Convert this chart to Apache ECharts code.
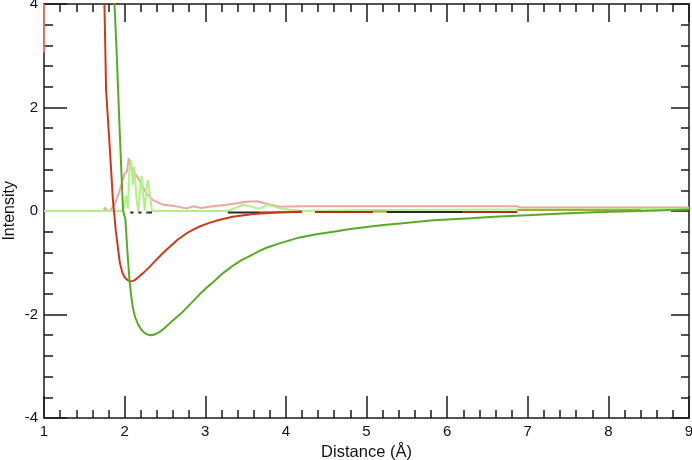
<!DOCTYPE html>
<html>
<head>
<meta charset="utf-8">
<script src="https://cdn.jsdelivr.net/npm/echarts@6/dist/echarts.min.js"></script>
<style>
  html, body { margin: 0; padding: 0; background: #fff; }
  #chart { width: 692px; height: 460px; }
</style>
</head>
<body>
<div id="chart"></div>
<script>
// total (red) curve
const redCurve = [
  [1.74, 4.3], [1.75, 3.98], [1.77, 2.34], [1.81, 1.37], [1.855, 0.21], [1.89, -0.37],
  [1.94, -1.0], [1.97, -1.18], [2.0, -1.28], [2.04, -1.34], [2.08, -1.36], [2.12, -1.34],
  [2.17, -1.28], [2.23, -1.2], [2.31, -1.08], [2.39, -0.95], [2.47, -0.82], [2.56, -0.69],
  [2.66, -0.55], [2.77, -0.43], [2.85, -0.36], [2.93, -0.30], [3.05, -0.23], [3.18, -0.17],
  [3.34, -0.11], [3.6, -0.06], [3.88, -0.03], [4.2, -0.01]
]
// second (green) curve
const greenCurve = [
  [1.87, 4.3], [1.875, 3.98], [1.9, 3.11], [1.94, 1.5], [1.98, 0.02], [2.01, -0.17],
  [2.035, -0.8], [2.06, -1.33], [2.08, -1.62], [2.1, -1.85], [2.13, -2.05], [2.17, -2.2],
  [2.21, -2.3], [2.25, -2.36], [2.29, -2.39], [2.33, -2.4], [2.38, -2.38], [2.43, -2.34],
  [2.49, -2.27], [2.56, -2.17], [2.64, -2.06], [2.72, -1.95], [2.82, -1.79], [2.93, -1.61],
  [3.02, -1.48], [3.1, -1.37], [3.22, -1.2], [3.34, -1.06], [3.45, -0.95], [3.55, -0.87],
  [3.66, -0.78], [3.76, -0.71], [3.93, -0.62], [4.17, -0.51], [4.38, -0.45], [4.59, -0.4],
  [4.8, -0.35], [5.0, -0.31], [5.21, -0.27], [5.42, -0.24], [5.63, -0.21], [5.83, -0.18],
  [6.06, -0.16], [6.29, -0.14], [6.58, -0.11], [6.99, -0.08], [7.44, -0.05], [7.9, -0.02],
  [8.4, 0.0], [9.0, 0.03]
]
// light red curve
const pinkCurve = [
  [1.74, 0.02], [1.76, 0.06], [1.78, 0.01], [1.82, 0.0], [1.88, 0.15], [1.94, 0.4],
  [2.0, 0.73], [2.03, 0.76], [2.05, 1.02], [2.07, 0.9], [2.10, 0.79], [2.14, 0.7],
  [2.19, 0.57], [2.23, 0.45], [2.27, 0.34], [2.35, 0.21], [2.48, 0.12], [2.6, 0.10],
  [2.7, 0.07], [2.77, 0.05], [2.85, 0.09], [2.95, 0.06], [3.05, 0.08], [3.15, 0.1],
  [3.26, 0.12], [3.4, 0.15], [3.51, 0.18], [3.64, 0.19], [3.76, 0.14], [3.93, 0.08],
  [4.2, 0.09], [6.87, 0.09], [6.9, 0.07], [9.0, 0.07]
]
// light green curve
const lightGreenCurve = [
  [1.0, 0.0], [1.98, 0.0], [2.02, 0.3], [2.04, 0.05], [2.06, 0.8], [2.08, 0.98],
  [2.10, 0.5], [2.12, 0.85], [2.15, 0.2], [2.17, 0.0], [2.19, 0.4], [2.21, 0.68],
  [2.23, 0.3], [2.25, 0.0], [2.27, 0.45], [2.29, 0.6], [2.31, 0.35], [2.34, 0.0],
  [3.28, 0.0], [3.47, 0.12], [3.59, 0.08], [3.66, 0.04], [3.78, 0.12], [3.93, 0.05],
  [4.18, 0.0], [5.0, 0.02], [9.0, 0.04]
]
// near-zero partial curves ('-' breaks the line)
const blackBits = [
  [2.07, -0.03], [2.11, -0.03], [2.11, '-'], [2.17, -0.03], [2.21, -0.03], [2.21, '-'],
  [2.27, -0.03], [2.34, -0.03], [2.34, '-'], [3.28, -0.03], [3.68, -0.03], [3.68, '-'],
  [5.25, -0.02], [6.2, -0.02]
]
const darkRedBits = [
  [3.68, -0.03], [4.2, -0.02], [4.2, '-'], [4.36, -0.02], [5.08, -0.02], [5.08, '-'],
  [6.2, -0.02], [6.87, -0.02]
]
const oliveBits = [
  [5.08, -0.01], [5.25, -0.01], [5.25, '-'], [6.87, 0.02], [8.4, 0.02]
]
const edgeBit = [[1.0, 4.0], [1.0, 3.06]]

const xTicks = { min: 1, max: 9, interval: 1 }
const yTicks = { min: -4, max: 4, interval: 2 }

const FONT = 'Liberation Sans, Arial, sans-serif'
const lineColor = '#1a1a1a'

const chart = echarts.init(document.getElementById('chart'))

const line = (data, color, width, z) => ({
  type: 'line',
  data,
  showSymbol: false,
  symbol: 'none',
  smooth: false,
  connectNulls: false,
  clip: true,
  z,
  lineStyle: { color, width },
  emphasis: { disabled: true }
})

const axisBase = {
  axisLine: { show: true, onZero: false, lineStyle: { color: lineColor, width: 1.5 } },
  splitLine: { show: false },
  minorSplitLine: { show: false }
}

chart.setOption({
  animation: false,
  textStyle: { fontFamily: FONT },
  grid: { left: 44, right: 3, top: 4, bottom: 42, containLabel: false, outerBoundsMode: 'none' },
  // y-axis title, drawn as rotated text next to the axis labels
  graphic: [{
    type: 'text',
    left: 2,
    top: 181,
    rotation: Math.PI / 2,
    style: { text: 'Intensity', font: '16px ' + FONT, fill: '#111' }
  }],
  xAxis: [
    {
      ...axisBase,
      type: 'value',
      ...xTicks,
      name: 'Distance (Å)',
      nameLocation: 'middle',
      nameGap: 26,
      nameTextStyle: { fontSize: 16.5, color: '#111', fontFamily: FONT },
      axisTick: { inside: true, length: 22, lineStyle: { color: lineColor, width: 1.5 } },
      minorTick: { show: true, splitNumber: 5, length: 8, lineStyle: { color: lineColor, width: 1.5 } },
      axisLabel: { margin: 6, fontSize: 15, color: '#111', fontFamily: FONT }
    },
    {
      ...axisBase,
      type: 'value',
      ...xTicks,
      position: 'top',
      axisTick: { inside: true, length: 18, lineStyle: { color: lineColor, width: 1.5 } },
      minorTick: { show: true, splitNumber: 5, length: 8, lineStyle: { color: lineColor, width: 1.5 } },
      axisLabel: { show: false }
    }
  ],
  yAxis: [
    {
      ...axisBase,
      type: 'value',
      ...yTicks,
      axisTick: { inside: true, length: 23, lineStyle: { color: lineColor, width: 1.5 } },
      minorTick: { show: true, splitNumber: 5, length: 9, lineStyle: { color: lineColor, width: 1.5 } },
      axisLabel: { margin: 6, fontSize: 15, color: '#111', fontFamily: FONT }
    },
    {
      ...axisBase,
      type: 'value',
      ...yTicks,
      position: 'right',
      axisTick: { inside: true, length: 18, lineStyle: { color: lineColor, width: 1.5 } },
      minorTick: { show: true, splitNumber: 5, length: 8, lineStyle: { color: lineColor, width: 1.5 } },
      axisLabel: { show: false }
    }
  ],
  series: [
    line(pinkCurve, '#f0a4a0', 2, 2),
    line(lightGreenCurve, '#b2f08a', 2, 3),
    line(oliveBits, '#aaa83a', 2, 4),
    line(blackBits, '#2a2a2a', 2, 4),
    line(darkRedBits, '#a8301c', 2, 4),
    line(edgeBit, '#e8705e', 2, 5),
    line(redCurve, '#cc3a1c', 2, 6),
    line(greenCurve, '#5aaa2a', 2, 6)
  ]
})
</script>
</body>
</html>
